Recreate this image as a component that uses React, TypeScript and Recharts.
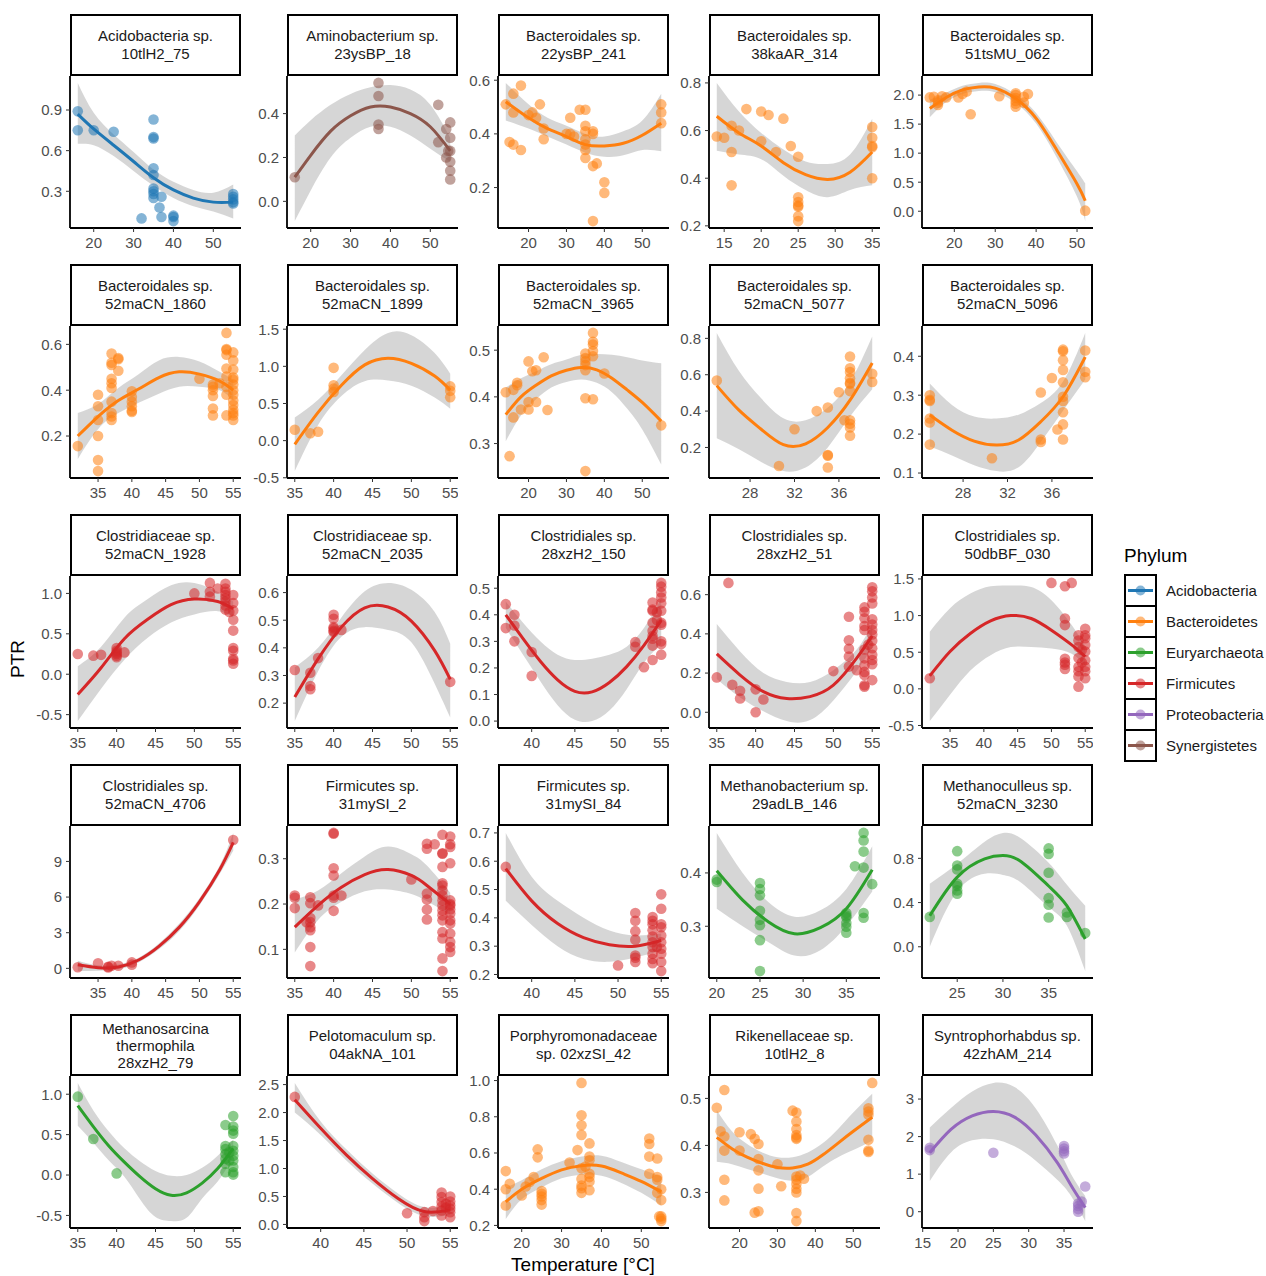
import React from 'react';
import { Area, ComposedChart, Line, Scatter, XAxis, YAxis } from 'recharts';

const FONT = '"Liberation Sans", Arial, Helvetica, sans-serif';

const phyla = ['Acidobacteria', 'Bacteroidetes', 'Euryarchaeota', 'Firmicutes', 'Proteobacteria', 'Synergistetes'];
const phylumColors = ['#1f77b4', '#ff7f0e', '#2ca02c', '#d62728', '#9467bd', '#8c564b'];

// points are [temperature, PTR]; fits are [temperature, fit, lower, upper]
const acido75Pts = [[16, 0.89], [16, 0.75], [20, 0.75], [25, 0.74], [35, 0.83], [35, 0.7], [35, 0.69], [35, 0.47], [35, 0.42], [35, 0.32], [35, 0.3], [35, 0.28], [35, 0.25], [32, 0.1], [37, 0.26], [36.5, 0.18], [37, 0.11], [40, 0.12], [40, 0.08], [40, 0.11], [55, 0.28], [55, 0.26], [55, 0.24], [55, 0.22], [55, 0.21]];
const acido75Fit = [[16, 0.87, 0.65, 1.1], [20, 0.76, 0.64, 0.88], [25, 0.64, 0.56, 0.72], [30, 0.52, 0.45, 0.59], [35, 0.4, 0.34, 0.46], [40, 0.31, 0.25, 0.37], [45, 0.25, 0.19, 0.31], [50, 0.22, 0.15, 0.29], [55, 0.22, 0.1, 0.35]];

const amino18Pts = [[16, 0.11], [37, 0.54], [37, 0.48], [37, 0.35], [37, 0.33], [52, 0.44], [52, 0.27], [54, 0.33], [55, 0.36], [55, 0.29], [55, 0.23], [54, 0.2], [55, 0.18], [55, 0.14], [55, 0.1], [54.5, 0.23]];
const amino18Fit = [[16, 0.11, -0.09, 0.3], [20, 0.21, 0.05, 0.37], [25, 0.32, 0.2, 0.44], [30, 0.39, 0.29, 0.49], [35, 0.43, 0.34, 0.52], [40, 0.43, 0.34, 0.53], [45, 0.4, 0.3, 0.51], [50, 0.34, 0.24, 0.44], [55, 0.23, 0.18, 0.29]];

const bac241Pts = [[14, 0.51], [16, 0.55], [16, 0.48], [18, 0.58], [15, 0.37], [16, 0.36], [18, 0.34], [20, 0.47], [21, 0.48], [22, 0.46], [23, 0.51], [24, 0.42], [24, 0.38], [30, 0.4], [31, 0.46], [31, 0.4], [32, 0.39], [33.5, 0.49], [35, 0.49], [35, 0.43], [35, 0.41], [35, 0.38], [35, 0.36], [35, 0.34], [35, 0.31], [37, 0.41], [37, 0.4], [37, 0.28], [38, 0.29], [40, 0.22], [40, 0.18], [37, 0.075], [55, 0.51], [55, 0.48], [55, 0.44]];
const bac241Fit = [[14, 0.52, 0.45, 0.59], [20, 0.46, 0.42, 0.51], [25, 0.42, 0.39, 0.46], [30, 0.39, 0.36, 0.43], [35, 0.36, 0.33, 0.4], [40, 0.355, 0.315, 0.39], [45, 0.365, 0.32, 0.41], [50, 0.395, 0.34, 0.45], [55, 0.44, 0.335, 0.55]];

const bac314Pts = [[14, 0.575], [15, 0.57], [16, 0.62], [16, 0.51], [17, 0.6], [16, 0.37], [18, 0.69], [20, 0.68], [20, 0.555], [21, 0.665], [22, 0.51], [23, 0.65], [24, 0.535], [25, 0.49], [25, 0.32], [25, 0.3], [25, 0.285], [25, 0.28], [25, 0.24], [25, 0.22], [35, 0.615], [35, 0.57], [35, 0.535], [35, 0.53], [35, 0.4]];
const bac314Fit = [[14, 0.66, 0.515, 0.8], [17, 0.59, 0.5, 0.68], [20, 0.535, 0.48, 0.59], [23, 0.465, 0.41, 0.52], [26, 0.415, 0.35, 0.47], [29, 0.395, 0.32, 0.46], [32, 0.425, 0.35, 0.5], [35, 0.51, 0.37, 0.65]];

const bac062Pts = [[14, 1.96], [15, 1.97], [16, 1.91], [16, 1.87], [16, 1.83], [17, 1.98], [18, 1.96], [21, 1.96], [22, 2.02], [23, 2.06], [24, 1.67], [31, 1.98], [35, 2.03], [35, 2.0], [35, 1.95], [35, 1.9], [35, 1.85], [35, 1.8], [37, 1.97], [37, 1.87], [38, 2.02], [52, 0.01]];
const bac062Fit = [[14, 1.77, 1.62, 1.92], [18, 1.96, 1.88, 2.04], [22, 2.09, 2.02, 2.16], [26, 2.14, 2.07, 2.21], [30, 2.12, 2.05, 2.19], [35, 1.94, 1.87, 2.01], [40, 1.6, 1.51, 1.69], [45, 1.06, 0.93, 1.19], [50, 0.47, 0.25, 0.69], [52, 0.18, -0.17, 0.48]];

const bac1860Pts = [[32, 0.156], [35, 0.38], [35, 0.33], [35, 0.27], [35, 0.2], [35, 0.095], [35, 0.047], [37, 0.56], [37, 0.52], [37, 0.51], [38, 0.54], [38, 0.535], [38, 0.485], [37, 0.45], [37, 0.43], [37, 0.41], [37, 0.35], [37, 0.3], [37, 0.285], [37, 0.27], [40, 0.395], [40, 0.37], [40, 0.35], [40, 0.33], [40, 0.31], [40, 0.305], [50, 0.45], [52, 0.425], [52, 0.415], [52, 0.4], [52, 0.375], [52, 0.32], [52, 0.29], [53, 0.43], [54, 0.65], [54, 0.58], [54, 0.575], [54, 0.555], [54, 0.495], [54, 0.46], [54, 0.415], [54, 0.38], [54, 0.29], [55, 0.565], [55, 0.53], [55, 0.49], [55, 0.455], [55, 0.445], [55, 0.425], [55, 0.4], [55, 0.38], [55, 0.355], [55, 0.335], [55, 0.315], [55, 0.3], [55, 0.29], [55, 0.27]];
const bac1860Fit = [[32, 0.2, 0.1, 0.3], [35, 0.285, 0.23, 0.34], [38, 0.355, 0.3, 0.41], [41, 0.405, 0.345, 0.47], [44, 0.455, 0.385, 0.53], [47, 0.48, 0.415, 0.545], [50, 0.47, 0.415, 0.525], [53, 0.44, 0.4, 0.48], [55, 0.4, 0.355, 0.445]];

const bac1899Pts = [[35, 0.147], [37, 0.1], [38, 0.12], [40, 0.98], [40, 0.745], [40, 0.7], [40, 0.655], [55, 0.73], [55, 0.67], [55, 0.585]];
const bac1899Fit = [[35, -0.05, -0.41, 0.31], [38, 0.38, 0.21, 0.55], [41, 0.745, 0.6, 0.88], [44, 1.02, 0.8, 1.22], [47, 1.11, 0.81, 1.45], [50, 1.04, 0.74, 1.42], [53, 0.87, 0.58, 1.18], [55, 0.68, 0.43, 0.9]];

const bac3965Pts = [[14, 0.41], [16, 0.415], [17, 0.43], [17, 0.425], [16, 0.356], [15, 0.273], [20, 0.476], [21, 0.455], [22, 0.457], [24, 0.485], [18, 0.373], [20, 0.389], [20, 0.373], [22, 0.389], [25, 0.372], [35, 0.493], [35, 0.483], [35, 0.476], [35, 0.468], [35, 0.457], [35, 0.397], [35, 0.241], [37, 0.537], [37, 0.518], [37, 0.512], [37, 0.498], [37, 0.487], [37, 0.395], [40, 0.45], [55, 0.339]];
const bac3965Fit = [[14, 0.362, 0.305, 0.42], [18, 0.4, 0.36, 0.44], [22, 0.425, 0.395, 0.455], [26, 0.445, 0.42, 0.47], [30, 0.457, 0.432, 0.48], [34, 0.463, 0.437, 0.49], [38, 0.458, 0.43, 0.492], [42, 0.44, 0.41, 0.49], [46, 0.415, 0.375, 0.485], [50, 0.388, 0.33, 0.478], [55, 0.348, 0.255, 0.472]];

const bac5077Pts = [[25, 0.568], [30.6, 0.098], [32, 0.3], [34, 0.4], [35, 0.42], [35, 0.158], [35, 0.155], [35, 0.09], [36, 0.504], [36.5, 0.35], [37, 0.7], [37, 0.635], [37, 0.615], [37, 0.58], [37, 0.555], [37, 0.55], [37, 0.51], [37, 0.35], [37, 0.33], [37, 0.31], [37, 0.265], [39, 0.605], [39, 0.56]];
const bac5077Fit = [[25, 0.54, 0.25, 0.83], [27, 0.405, 0.19, 0.62], [29, 0.3, 0.12, 0.47], [31, 0.215, 0.07, 0.36], [33, 0.22, 0.09, 0.35], [35, 0.31, 0.2, 0.42], [37, 0.46, 0.37, 0.56], [39, 0.665, 0.52, 0.81]];

const bac5096Pts = [[25, 0.3], [25, 0.288], [25, 0.285], [25, 0.24], [25, 0.23], [25, 0.173], [30.6, 0.138], [35, 0.307], [35, 0.186], [35, 0.18], [36, 0.344], [36.5, 0.212], [37, 0.417], [37, 0.413], [37, 0.39], [37, 0.365], [37, 0.333], [37, 0.296], [37, 0.285], [37, 0.256], [37, 0.225], [37, 0.186], [39, 0.415], [39, 0.36], [39, 0.346]];
const bac5096Fit = [[25, 0.249, 0.168, 0.33], [27, 0.21, 0.145, 0.275], [29, 0.182, 0.12, 0.245], [31, 0.172, 0.105, 0.24], [33, 0.185, 0.115, 0.25], [35, 0.232, 0.18, 0.28], [37, 0.296, 0.26, 0.335], [39, 0.398, 0.34, 0.46]];

const clos1928Pts = [[35, 0.25], [37, 0.23], [38, 0.24], [40, 0.325], [40, 0.29], [40, 0.27], [40, 0.25], [40, 0.23], [40, 0.21], [41, 0.27], [50, 1.0], [52, 1.13], [52, 1.02], [52, 0.96], [53, 1.06], [54, 1.12], [54, 1.06], [54, 1.02], [54, 0.98], [54, 0.94], [54, 0.9], [54, 0.85], [54, 0.8], [54.5, 0.77], [55, 0.98], [55, 0.88], [55, 0.79], [55, 0.675], [55, 0.54], [55, 0.325], [55, 0.29], [55, 0.19], [55, 0.17], [55, 0.13]];
const clos1928Fit = [[35, -0.25, -0.58, 0.1], [38, 0.08, -0.18, 0.34], [41, 0.44, 0.18, 0.7], [44, 0.68, 0.45, 0.93], [47, 0.86, 0.64, 1.1], [50, 0.93, 0.74, 1.13], [53, 0.9, 0.78, 1.02], [55, 0.81, 0.7, 0.9]];

const clos2035Pts = [[35, 0.32], [37, 0.31], [37, 0.262], [37, 0.25], [38, 0.363], [40, 0.52], [40, 0.505], [40, 0.475], [40, 0.47], [40, 0.462], [40, 0.457], [41, 0.465], [55, 0.277]];
const clos2035Fit = [[35, 0.222, 0.135, 0.33], [38, 0.36, 0.315, 0.4], [41, 0.475, 0.44, 0.51], [44, 0.545, 0.475, 0.605], [47, 0.548, 0.465, 0.635], [50, 0.497, 0.42, 0.61], [53, 0.39, 0.27, 0.53], [55, 0.286, 0.148, 0.415]];

const clos150Pts = [[37, 0.44], [37, 0.35], [38, 0.4], [38, 0.36], [38, 0.3], [40, 0.26], [40, 0.17], [52, 0.297], [52, 0.28], [53, 0.203], [54, 0.446], [54, 0.42], [54, 0.415], [54, 0.37], [54, 0.34], [54, 0.32], [54, 0.31], [54, 0.284], [54, 0.23], [54.5, 0.38], [54.5, 0.41], [55, 0.52], [55, 0.506], [55, 0.484], [55, 0.465], [55, 0.443], [55, 0.415], [55, 0.37], [55, 0.363], [55, 0.3], [55, 0.29], [55, 0.25]];
const clos150Fit = [[37, 0.4, 0.35, 0.45], [39, 0.31, 0.25, 0.37], [41, 0.225, 0.15, 0.3], [43, 0.155, 0.06, 0.25], [45, 0.112, 0.005, 0.23], [47, 0.11, 0.0, 0.235], [49, 0.145, 0.04, 0.25], [51, 0.205, 0.12, 0.28], [53, 0.285, 0.22, 0.35], [55, 0.38, 0.29, 0.46]];

const clos51Pts = [[35, 0.178], [36.5, 0.66], [37, 0.14], [38, 0.11], [38, 0.07], [40, 0.117], [40, 0.0], [41, 0.065], [50, 0.21], [52, 0.487], [52, 0.367], [52, 0.324], [52, 0.284], [52, 0.233], [53, 0.215], [54, 0.535], [54, 0.513], [54, 0.48], [54, 0.44], [54, 0.42], [54, 0.32], [54, 0.275], [54, 0.24], [54, 0.206], [54, 0.19], [54, 0.138], [54, 0.13], [54.5, 0.345], [55, 0.638], [55, 0.617], [55, 0.586], [55, 0.555], [55, 0.474], [55, 0.448], [55, 0.42], [55, 0.397], [55, 0.365], [55, 0.327], [55, 0.293], [55, 0.267], [55, 0.245], [55, 0.164]];
const clos51Fit = [[35, 0.298, 0.17, 0.45], [38, 0.19, 0.075, 0.31], [41, 0.105, 0.005, 0.2], [44, 0.07, -0.045, 0.155], [47, 0.08, -0.04, 0.155], [50, 0.138, 0.06, 0.215], [53, 0.276, 0.21, 0.32], [55, 0.39, 0.33, 0.45]];

const clos030Pts = [[32, 0.145], [50, 1.446], [52, 1.4], [52, 0.96], [52, 0.87], [53, 1.446], [52, 0.41], [52, 0.36], [52, 0.33], [52, 0.27], [54, 0.73], [54, 0.66], [54, 0.57], [54, 0.42], [54, 0.3], [54, 0.24], [54, 0.17], [54, 0.03], [54.5, 0.53], [54.5, 0.36], [55, 0.82], [55, 0.73], [55, 0.69], [55, 0.6], [55, 0.51], [55, 0.39], [55, 0.3], [55, 0.24], [55, 0.145]];
const clos030Fit = [[32, 0.177, -0.44, 0.78], [35, 0.51, -0.08, 1.1], [38, 0.755, 0.25, 1.3], [41, 0.927, 0.46, 1.4], [44, 1.0, 0.57, 1.41], [47, 0.96, 0.57, 1.39], [50, 0.8, 0.55, 1.21], [53, 0.6, 0.48, 0.87], [55, 0.44, 0.31, 0.58]];

const clos4706Pts = [[32, 0.09], [35, 0.42], [36.5, 0.14], [36.5, 0.08], [37, 0.22], [38, 0.22], [40, 0.5], [40, 0.31], [55, 10.8]];
const clos4706Fit = [[32, 0.3, -0.23, 0.65], [35, 0.06, -0.2, 0.26], [38, 0.12, -0.08, 0.32], [41, 0.7, 0.5, 0.9], [44, 1.85, 1.6, 2.1], [47, 3.45, 3.15, 3.75], [50, 5.6, 5.3, 5.9], [53, 8.3, 7.95, 8.65], [55, 10.6, 9.9, 11.4]];

const firm2Pts = [[35, 0.219], [35, 0.214], [35, 0.191], [37, 0.215], [37, 0.202], [37, 0.169], [37, 0.16], [37, 0.149], [37, 0.142], [37, 0.105], [37, 0.063], [36.5, 0.16], [38, 0.197], [40, 0.357], [40, 0.355], [40, 0.279], [40, 0.263], [40, 0.219], [40, 0.214], [40, 0.185], [41, 0.219], [50, 0.254], [52, 0.333], [52, 0.322], [52, 0.223], [52, 0.21], [52, 0.188], [52, 0.166], [53, 0.332], [54, 0.353], [54, 0.312], [54, 0.311], [54, 0.282], [54, 0.246], [54, 0.241], [54, 0.23], [54, 0.219], [54, 0.208], [54, 0.197], [54, 0.186], [54, 0.175], [54, 0.164], [54, 0.138], [54, 0.124], [54, 0.08], [54, 0.052], [55, 0.349], [55, 0.332], [55, 0.326], [55, 0.29], [55, 0.208], [55, 0.2], [55, 0.197], [55, 0.188], [55, 0.179], [55, 0.164], [55, 0.157], [55, 0.135], [55, 0.116], [55, 0.105], [55, 0.094]];
const firm2Fit = [[35, 0.149, 0.093, 0.21], [38, 0.197, 0.165, 0.23], [41, 0.237, 0.205, 0.268], [44, 0.265, 0.228, 0.305], [47, 0.276, 0.232, 0.327], [50, 0.263, 0.222, 0.31], [52, 0.241, 0.206, 0.285], [55, 0.2, 0.177, 0.225]];

const firm84Pts = [[37, 0.58], [50, 0.232], [52, 0.417], [52, 0.39], [52, 0.353], [52, 0.323], [52, 0.267], [52, 0.259], [52, 0.244], [54, 0.403], [54, 0.39], [54, 0.377], [54, 0.356], [54, 0.334], [54, 0.314], [54, 0.297], [54, 0.273], [54, 0.255], [54, 0.24], [54.5, 0.297], [55, 0.483], [55, 0.432], [55, 0.377], [55, 0.367], [55, 0.338], [55, 0.314], [55, 0.291], [55, 0.273], [55, 0.244], [55, 0.212]];
const firm84Fit = [[37, 0.574, 0.46, 0.7], [40, 0.46, 0.375, 0.545], [43, 0.38, 0.3, 0.46], [46, 0.33, 0.255, 0.4], [49, 0.305, 0.245, 0.355], [52, 0.3, 0.26, 0.338], [55, 0.32, 0.285, 0.345]];

const mbac146Pts = [[20, 0.3875], [20, 0.383], [25, 0.381], [25, 0.37], [25, 0.358], [25, 0.329], [25, 0.312], [25, 0.302], [25, 0.274], [25, 0.216], [35, 0.325], [35, 0.32], [35, 0.317], [35, 0.306], [35, 0.299], [35, 0.288], [36, 0.4125], [37, 0.475], [37, 0.461], [37, 0.44], [37, 0.41], [37, 0.325], [37, 0.316], [38, 0.379]];
const mbac146Fit = [[20, 0.404, 0.333, 0.475], [23, 0.349, 0.3, 0.4], [26, 0.308, 0.27, 0.345], [29, 0.286, 0.245, 0.318], [32, 0.2975, 0.255, 0.33], [35, 0.333, 0.3, 0.37], [38, 0.406, 0.365, 0.45]];

const mcul3230Pts = [[22, 0.27], [25, 0.865], [25, 0.735], [25, 0.7], [25, 0.57], [25, 0.55], [25, 0.51], [25, 0.48], [35, 0.89], [35, 0.84], [35, 0.67], [35, 0.44], [35, 0.38], [35, 0.265], [37, 0.31], [37, 0.27], [39, 0.124]];
const mcul3230Fit = [[22, 0.28, 0.0, 0.57], [25, 0.63, 0.5, 0.75], [28, 0.795, 0.66, 0.95], [30, 0.825, 0.65, 1.03], [32, 0.77, 0.58, 0.98], [35, 0.55, 0.36, 0.76], [37, 0.37, 0.19, 0.56], [39, 0.07, -0.22, 0.37]];

const msar79Pts = [[35, 0.97], [37, 0.445], [40, 0.02], [54, 0.62], [54, 0.36], [54, 0.32], [54, 0.26], [54, 0.2], [54, 0.14], [54, 0.035], [54.5, 0.28], [54.5, 0.18], [55, 0.73], [55, 0.6], [55, 0.55], [55, 0.51], [55, 0.36], [55, 0.3], [55, 0.24], [55, 0.18], [55, 0.1], [55, 0.035], [55, 0.005]];
const msar79Fit = [[35, 0.86, 0.61, 1.14], [37, 0.6, 0.4, 0.8], [39, 0.36, 0.18, 0.54], [41, 0.16, -0.02, 0.33], [43, -0.02, -0.3, 0.17], [45, -0.17, -0.52, 0.05], [47, -0.25, -0.57, -0.01], [49, -0.22, -0.53, 0.0], [51, -0.1, -0.29, 0.09], [53, 0.08, -0.08, 0.24], [55, 0.33, 0.22, 0.44]];

const pelo101Pts = [[37, 2.28], [50, 0.2], [52, 0.22], [52, 0.13], [52, 0.06], [53, 0.24], [54, 0.57], [54, 0.49], [54, 0.4], [54, 0.32], [54, 0.25], [54, 0.16], [54.5, 0.37], [54.5, 0.3], [55, 0.5], [55, 0.41], [55, 0.34], [55, 0.28], [55, 0.22], [55, 0.13]];
const pelo101Fit = [[37, 2.23, 2.0, 2.53], [40, 1.72, 1.6, 1.84], [43, 1.24, 1.14, 1.34], [46, 0.82, 0.73, 0.91], [49, 0.46, 0.38, 0.55], [52, 0.23, 0.15, 0.31], [55, 0.26, 0.17, 0.35]];

const porph42Pts = [[16, 0.5], [16, 0.4], [16, 0.31], [17, 0.43], [20, 0.365], [21, 0.415], [22, 0.44], [23, 0.467], [24, 0.62], [24, 0.576], [25, 0.39], [25, 0.375], [25, 0.36], [25, 0.34], [25, 0.315], [32, 0.547], [34, 0.616], [35, 0.987], [35, 0.808], [35, 0.753], [35, 0.7], [35, 0.516], [35, 0.457], [35, 0.42], [35, 0.406], [35, 0.38], [36, 0.525], [37, 0.653], [37, 0.58], [37, 0.56], [37, 0.485], [37, 0.467], [37, 0.443], [37, 0.394], [52, 0.68], [52, 0.65], [52, 0.58], [52, 0.485], [54, 0.57], [54, 0.467], [54, 0.452], [54, 0.38], [54.5, 0.25], [55, 0.4], [55, 0.34], [55, 0.25], [55, 0.237], [55, 0.224]];
const porph42Fit = [[16, 0.33, 0.235, 0.41], [20, 0.4, 0.345, 0.45], [25, 0.46, 0.41, 0.51], [30, 0.507, 0.46, 0.555], [35, 0.53, 0.48, 0.58], [40, 0.528, 0.475, 0.585], [45, 0.49, 0.435, 0.55], [50, 0.443, 0.38, 0.51], [55, 0.385, 0.31, 0.47]];

const rik8Pts = [[14, 0.48], [16, 0.518], [15, 0.43], [16, 0.419], [16, 0.389], [16, 0.327], [16, 0.283], [20, 0.428], [20, 0.389], [23, 0.424], [24, 0.414], [25, 0.403], [25, 0.371], [25, 0.347], [25, 0.308], [24, 0.257], [25, 0.26], [30, 0.36], [31, 0.313], [34, 0.474], [35, 0.47], [35, 0.451], [35, 0.435], [35, 0.422], [35, 0.417], [35, 0.414], [35, 0.334], [35, 0.327], [35, 0.318], [35, 0.308], [35, 0.3], [35, 0.256], [35, 0.239], [36, 0.336], [37, 0.329], [55, 0.533], [54, 0.479], [54, 0.472], [54, 0.465], [54, 0.412], [54, 0.389], [54, 0.386]];
const rik8Fit = [[14, 0.417, 0.365, 0.475], [18, 0.393, 0.36, 0.43], [22, 0.375, 0.35, 0.403], [26, 0.362, 0.34, 0.385], [30, 0.353, 0.33, 0.375], [34, 0.352, 0.325, 0.375], [38, 0.36, 0.333, 0.385], [42, 0.38, 0.355, 0.405], [46, 0.405, 0.375, 0.435], [50, 0.43, 0.39, 0.47], [55, 0.46, 0.41, 0.51]];

const synt214Pts = [[16, 1.7], [16, 1.64], [25, 1.57], [35, 1.75], [35, 1.68], [35, 1.61], [35, 1.55], [37, 0.22], [37, 0.15], [37, 0.07], [37, 0.0], [37.5, 0.27], [38, 0.67]];
const synt214Fit = [[16, 1.57, 0.82, 2.24], [19, 2.19, 1.58, 2.76], [22, 2.55, 1.9, 3.2], [25, 2.67, 1.93, 3.43], [28, 2.52, 1.74, 3.32], [31, 2.04, 1.36, 2.75], [34, 1.32, 0.86, 1.78], [36, 0.7, 0.42, 1.0], [38, 0.11, -0.25, 0.42]];

const ticks15to35 = [15, 20, 25, 30, 35];
const ticks20to50 = [20, 30, 40, 50];
const ticks35to55 = [35, 40, 45, 50, 55];
const ticks40to55 = [40, 45, 50, 55];
const ticks28to36 = [28, 32, 36];
const ticks20to35 = [20, 25, 30, 35];
const ticks25to35 = [25, 30, 35];

const panels = [
  { title: ['Acidobacteria sp.', '10tlH2_75'], phylum: 'Acidobacteria', pts: acido75Pts, fit: acido75Fit, xTicks: ticks20to50, yTicks: [0.3, 0.6, 0.9], digits: 1 },
  { title: ['Aminobacterium sp.', '23ysBP_18'], phylum: 'Synergistetes', pts: amino18Pts, fit: amino18Fit, xTicks: ticks20to50, yTicks: [0, 0.2, 0.4], digits: 1 },
  { title: ['Bacteroidales sp.', '22ysBP_241'], phylum: 'Bacteroidetes', pts: bac241Pts, fit: bac241Fit, xTicks: ticks20to50, yTicks: [0.2, 0.4, 0.6], digits: 1 },
  { title: ['Bacteroidales sp.', '38kaAR_314'], phylum: 'Bacteroidetes', pts: bac314Pts, fit: bac314Fit, xTicks: ticks15to35, yTicks: [0.2, 0.4, 0.6, 0.8], digits: 1 },
  { title: ['Bacteroidales sp.', '51tsMU_062'], phylum: 'Bacteroidetes', pts: bac062Pts, fit: bac062Fit, xTicks: ticks20to50, yTicks: [0, 0.5, 1, 1.5, 2], digits: 1 },
  { title: ['Bacteroidales sp.', '52maCN_1860'], phylum: 'Bacteroidetes', pts: bac1860Pts, fit: bac1860Fit, xTicks: ticks35to55, yTicks: [0.2, 0.4, 0.6], digits: 1 },
  { title: ['Bacteroidales sp.', '52maCN_1899'], phylum: 'Bacteroidetes', pts: bac1899Pts, fit: bac1899Fit, xTicks: ticks35to55, yTicks: [-0.5, 0, 0.5, 1, 1.5], digits: 1 },
  { title: ['Bacteroidales sp.', '52maCN_3965'], phylum: 'Bacteroidetes', pts: bac3965Pts, fit: bac3965Fit, xTicks: ticks20to50, yTicks: [0.3, 0.4, 0.5], digits: 1 },
  { title: ['Bacteroidales sp.', '52maCN_5077'], phylum: 'Bacteroidetes', pts: bac5077Pts, fit: bac5077Fit, xTicks: ticks28to36, yTicks: [0.2, 0.4, 0.6, 0.8], digits: 1 },
  { title: ['Bacteroidales sp.', '52maCN_5096'], phylum: 'Bacteroidetes', pts: bac5096Pts, fit: bac5096Fit, xTicks: ticks28to36, yTicks: [0.1, 0.2, 0.3, 0.4], digits: 1 },
  { title: ['Clostridiaceae sp.', '52maCN_1928'], phylum: 'Firmicutes', pts: clos1928Pts, fit: clos1928Fit, xTicks: ticks35to55, yTicks: [-0.5, 0, 0.5, 1], digits: 1 },
  { title: ['Clostridiaceae sp.', '52maCN_2035'], phylum: 'Firmicutes', pts: clos2035Pts, fit: clos2035Fit, xTicks: ticks35to55, yTicks: [0.2, 0.3, 0.4, 0.5, 0.6], digits: 1 },
  { title: ['Clostridiales sp.', '28xzH2_150'], phylum: 'Firmicutes', pts: clos150Pts, fit: clos150Fit, xTicks: ticks40to55, yTicks: [0, 0.1, 0.2, 0.3, 0.4, 0.5], digits: 1 },
  { title: ['Clostridiales sp.', '28xzH2_51'], phylum: 'Firmicutes', pts: clos51Pts, fit: clos51Fit, xTicks: ticks35to55, yTicks: [0, 0.2, 0.4, 0.6], digits: 1 },
  { title: ['Clostridiales sp.', '50dbBF_030'], phylum: 'Firmicutes', pts: clos030Pts, fit: clos030Fit, xTicks: ticks35to55, yTicks: [-0.5, 0, 0.5, 1, 1.5], digits: 1 },
  { title: ['Clostridiales sp.', '52maCN_4706'], phylum: 'Firmicutes', pts: clos4706Pts, fit: clos4706Fit, xTicks: ticks35to55, yTicks: [0, 3, 6, 9], digits: 0 },
  { title: ['Firmicutes sp.', '31mySI_2'], phylum: 'Firmicutes', pts: firm2Pts, fit: firm2Fit, xTicks: ticks35to55, yTicks: [0.1, 0.2, 0.3], digits: 1 },
  { title: ['Firmicutes sp.', '31mySI_84'], phylum: 'Firmicutes', pts: firm84Pts, fit: firm84Fit, xTicks: ticks40to55, yTicks: [0.2, 0.3, 0.4, 0.5, 0.6, 0.7], digits: 1 },
  { title: ['Methanobacterium sp.', '29adLB_146'], phylum: 'Euryarchaeota', pts: mbac146Pts, fit: mbac146Fit, xTicks: ticks20to35, yTicks: [0.3, 0.4], digits: 1 },
  { title: ['Methanoculleus sp.', '52maCN_3230'], phylum: 'Euryarchaeota', pts: mcul3230Pts, fit: mcul3230Fit, xTicks: ticks25to35, yTicks: [0, 0.4, 0.8], digits: 1 },
  { title: ['Methanosarcina', 'thermophila', '28xzH2_79'], phylum: 'Euryarchaeota', pts: msar79Pts, fit: msar79Fit, xTicks: ticks35to55, yTicks: [-0.5, 0, 0.5, 1], digits: 1 },
  { title: ['Pelotomaculum sp.', '04akNA_101'], phylum: 'Firmicutes', pts: pelo101Pts, fit: pelo101Fit, xTicks: ticks40to55, yTicks: [0, 0.5, 1, 1.5, 2, 2.5], digits: 1 },
  { title: ['Porphyromonadaceae', 'sp. 02xzSI_42'], phylum: 'Bacteroidetes', pts: porph42Pts, fit: porph42Fit, xTicks: ticks20to50, yTicks: [0.2, 0.4, 0.6, 0.8, 1], digits: 1 },
  { title: ['Rikenellaceae sp.', '10tlH2_8'], phylum: 'Bacteroidetes', pts: rik8Pts, fit: rik8Fit, xTicks: ticks20to50, yTicks: [0.3, 0.4, 0.5], digits: 1 },
  { title: ['Syntrophorhabdus sp.', '42zhAM_214'], phylum: 'Proteobacteria', pts: synt214Pts, fit: synt214Fit, xTicks: ticks15to35, yTicks: [0, 1, 2, 3], digits: 0 },
];

const COL_X = [70, 287, 498, 709, 922];
const ROW_Y = [14, 264, 514, 764, 1014];
const PANEL_W = 171;
const STRIP_H = 62;
const PLOT_H = 152;
const Y_W = 56;
const X_H = 28;
const TOP_PAD = 12; // room for tick labels sitting on the top edge

// ggplot-style 5% expansion of the data range
function expand(vals: number[]): [number, number] {
  const lo = Math.min(...vals);
  const hi = Math.max(...vals);
  const d = (hi - lo) * 0.05;
  return [lo - d, hi + d];
}

const tickStyle = { fontSize: 15, fill: '#4d4d4d', fontFamily: FONT };

function Facet({ panel, left, top }: { panel: (typeof panels)[number]; left: number; top: number }) {
  const color = phylumColors[phyla.indexOf(panel.phylum)];
  const points = panel.pts.map(([x, y]) => ({ x, y }));
  const curve = panel.fit.map(([x, fit, lo, hi]) => ({ x, fit, band: [lo, hi] }));
  const xDom = expand([...panel.pts.map((p) => p[0]), ...panel.fit.map((f) => f[0])]);
  const yDom = expand([
    ...panel.pts.map((p) => p[1]),
    ...panel.fit.map((f) => f[2]),
    ...panel.fit.map((f) => f[3]),
  ]);
  const lineH = panel.title.length > 2 ? 17 : 18;

  return (
    <>
      <div
        style={{
          position: 'absolute',
          left,
          top,
          width: PANEL_W,
          height: STRIP_H,
          border: '2px solid #000',
          boxSizing: 'border-box',
          display: 'flex',
          alignItems: 'center',
          justifyContent: 'center',
          textAlign: 'center',
          fontSize: 15,
          lineHeight: `${lineH}px`,
          color: '#1a1a1a',
        }}
      >
        <div>
          {panel.title.map((t, i) => (
            <div key={i}>{t}</div>
          ))}
        </div>
      </div>
      <div style={{ position: 'absolute', left: left - Y_W, top: top + STRIP_H - TOP_PAD }}>
        <ComposedChart
          width={Y_W + PANEL_W}
          height={TOP_PAD + PLOT_H + X_H}
          margin={{ top: TOP_PAD, right: 0, bottom: 0, left: 0 }}
        >
          <XAxis
            type="number"
            dataKey="x"
            domain={xDom}
            ticks={panel.xTicks}
            allowDataOverflow
            interval={0}
            height={X_H}
            tick={tickStyle}
            tickSize={4}
            tickMargin={5}
            tickLine={{ stroke: '#333' }}
            axisLine={{ stroke: '#000', strokeWidth: 1.8 }}
          />
          <YAxis
            type="number"
            domain={yDom}
            ticks={panel.yTicks}
            allowDataOverflow
            interval={0}
            width={Y_W}
            tick={tickStyle}
            tickSize={4}
            tickMargin={4}
            tickLine={{ stroke: '#333' }}
            axisLine={{ stroke: '#000', strokeWidth: 1.8 }}
            tickFormatter={(v: number) => v.toFixed(panel.digits)}
          />
          <Area
            data={curve}
            dataKey="band"
            type="natural"
            stroke="none"
            fill="#999999"
            fillOpacity={0.4}
            isAnimationActive={false}
          />
          <Scatter
            data={points}
            dataKey="y"
            isAnimationActive={false}
            shape={(p: any) => <circle cx={p.cx} cy={p.cy} r={5.3} fill={color} fillOpacity={0.55} />}
          />
          <Line
            data={curve}
            dataKey="fit"
            type="natural"
            stroke={color}
            strokeWidth={3}
            dot={false}
            isAnimationActive={false}
          />
        </ComposedChart>
      </div>
    </>
  );
}

function PhylumLegend() {
  return (
    <div style={{ position: 'absolute', left: 1124, top: 544 }}>
      <div style={{ fontSize: 19, lineHeight: '24px', color: '#000', marginBottom: 6 }}>Phylum</div>
      <svg width={140} height={190}>
        {phyla.map((name, i) => (
          <g key={name} transform={`translate(0, ${i * 31})`}>
            <rect x={1} y={1} width={31} height={31} fill="#fff" stroke="#000" strokeWidth={2} />
            <line x1={4} x2={29} y1={16.5} y2={16.5} stroke={phylumColors[i]} strokeWidth={3} />
            <circle cx={16.5} cy={16.5} r={5} fill={phylumColors[i]} fillOpacity={0.55} />
            <text x={42} y={21.5} fontSize={15} fill="#1a1a1a" fontFamily={FONT}>
              {name}
            </text>
          </g>
        ))}
      </svg>
    </div>
  );
}

export default function App() {
  return (
    <div
      style={{
        position: 'absolute',
        left: 0,
        top: 0,
        width: 1266,
        height: 1276,
        background: '#fff',
        fontFamily: FONT,
      }}
    >
      {panels.map((panel, i) => (
        <Facet key={i} panel={panel} left={COL_X[i % 5]} top={ROW_Y[Math.floor(i / 5)]} />
      ))}
      <div
        style={{
          position: 'absolute',
          left: -12,
          top: 647,
          width: 60,
          height: 24,
          lineHeight: '24px',
          textAlign: 'center',
          fontSize: 19,
          transform: 'rotate(-90deg)',
        }}
      >
        PTR
      </div>
      <div
        style={{
          position: 'absolute',
          left: 383,
          top: 1253,
          width: 400,
          lineHeight: '24px',
          textAlign: 'center',
          fontSize: 19,
        }}
      >
        Temperature [°C]
      </div>
      <PhylumLegend />
    </div>
  );
}
